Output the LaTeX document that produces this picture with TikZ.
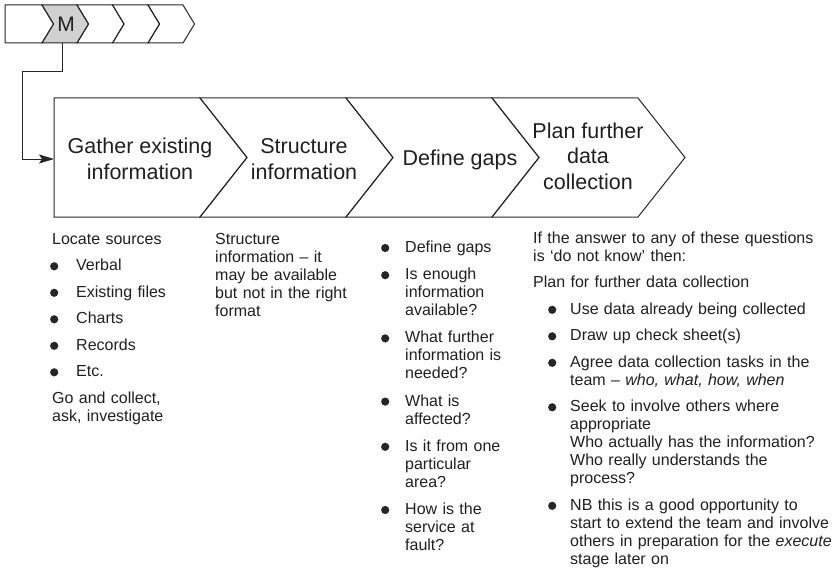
\documentclass[tikz,border=0pt]{standalone}
\usepackage{fontspec}
\setmainfont{Liberation Sans}
\usetikzlibrary{arrows.meta}
\newlength\tind
\newlength\bpos
\newcommand\bulletmark{\makebox[0pt]{\tikz[x=1pt,y=1pt,baseline=0pt]\fill[black!85] (0,4.4) circle (4.1pt);}}
\newcommand\bitem{\par\hangindent=\tind\hangafter=0\noindent\llap{\bulletmark\hspace*{\dimexpr\tind-\bpos\relax}}}
\begin{document}
\begin{tikzpicture}[x=1pt,y=-1pt,
  chev/.style={draw=black!85, line width=1pt, line join=miter},
  conn/.style={draw=black!85, line width=1pt},
  head/.style={font=\fontsize{21.5}{25.5}\selectfont, align=center, inner sep=0pt, text=black!88},
  col/.style={anchor=north west, inner sep=0pt, align=left, font=\fontsize{16}{18}\selectfont, text=black!88},
]
\useasboundingbox (0,0) rectangle (834,575);

% small chevron strip
\fill[black!18] (42,5) -- (77,5) -- (88.5,24) -- (77,43) -- (42,43) -- (53.5,24) -- cycle;
\draw[chev] (5,5) -- (42,5) -- (53.5,24) -- (42,43) -- (5,43) -- cycle;
\draw[chev] (42,5) -- (77,5) -- (88.5,24) -- (77,43) -- (42,43) -- (53.5,24) -- cycle;
\draw[chev] (77,5) -- (112.5,5) -- (124,24) -- (112.5,43) -- (77,43) -- (88.5,24) -- cycle;
\draw[chev] (112.5,5) -- (148,5) -- (159.5,24) -- (148,43) -- (112.5,43) -- (124,24) -- cycle;
\draw[chev] (148,5) -- (183,5) -- (194.5,24) -- (183,43) -- (148,43) -- (159.5,24) -- cycle;
\node[font=\fontsize{21}{21}\selectfont, text=black!88, inner sep=0pt] (M) at (66,24) {M};

% big chevrons
\draw[chev] (54,98) -- (200,98) -- (247,157.5) -- (200,217) -- (54,217) -- cycle;
\draw[chev] (200,98) -- (346,98) -- (393,157.5) -- (346,217) -- (200,217) -- (247,157.5) -- cycle;
\draw[chev] (346,98) -- (492,98) -- (539,157.5) -- (492,217) -- (346,217) -- (393,157.5) -- cycle;
\draw[chev] (492,98) -- (638,98) -- (685,157.5) -- (638,217) -- (492,217) -- (539,157.5) -- cycle;

\node[head] (h1) at (140,159) {Gather existing\\information};
\node[head] (h2) at (304,159) {Structure\\information};
\node[head, anchor=base] (h3) at (460,165) {Define gaps};
\node[head] (h4) at (588,156) {Plan further\\data\\collection};

% connector
\coordinate (Mbot) at (62,43);
\coordinate (k1) at (62,72);
\coordinate (k2) at (22,72);
\coordinate (k3) at (22,159);
\coordinate (Gin) at (54,159);
\draw[conn, -{Stealth[length=15pt,width=9pt,inset=3pt]}] (Mbot) -- (k1) -- (k2) -- (k3) -- (Gin);

% text columns
\node[col, text width=150pt] (c1) at (52,232) {\setlength\parskip{8.5pt}\setlength\bpos{2pt}\setlength\tind{24pt}%
\rule{0pt}{12pt}Locate sources
\bitem Verbal
\bitem Existing files
\bitem Charts
\bitem Records
\bitem Etc.
\par\noindent Go and collect,\newline ask, investigate\par};

\node[col, text width=150pt] (c2) at (215,232) {\rule{0pt}{12pt}Structure\newline information -- it\newline may be available\newline but not in the right\newline format\par};

\node[col, text width=140pt] (c3) at (381,225) {\setlength\parskip{9.2pt}\setlength\bpos{4pt}\setlength\tind{24pt}%
\bitem\rule{0pt}{12pt}Define gaps
\bitem Is enough\newline information\newline available?
\bitem What further\newline information is\newline needed?
\bitem What is\newline affected?
\bitem Is it from one\newline particular\newline area?
\bitem How is the\newline service at\newline fault?\par};

\node[col, text width=300pt] (c4) at (533,231) {\setlength\parskip{8.5pt}\setlength\bpos{19pt}\setlength\tind{37pt}%
\rule{0pt}{12pt}If the answer to any of these questions\newline is ‘do not know’ then:
\par\noindent Plan for further data collection
\bitem Use data already being collected
\bitem Draw up check sheet(s)
\bitem Agree data collection tasks in the\newline team -- \textit{who, what, how, when}
\bitem Seek to involve others where\newline appropriate\newline Who actually has the information?\newline Who really understands the\newline process?
\bitem NB this is a good opportunity to\newline start to extend the team and involve\newline others in preparation for the \textit{execute}\newline stage later on\par};
\end{tikzpicture}
\end{document}
